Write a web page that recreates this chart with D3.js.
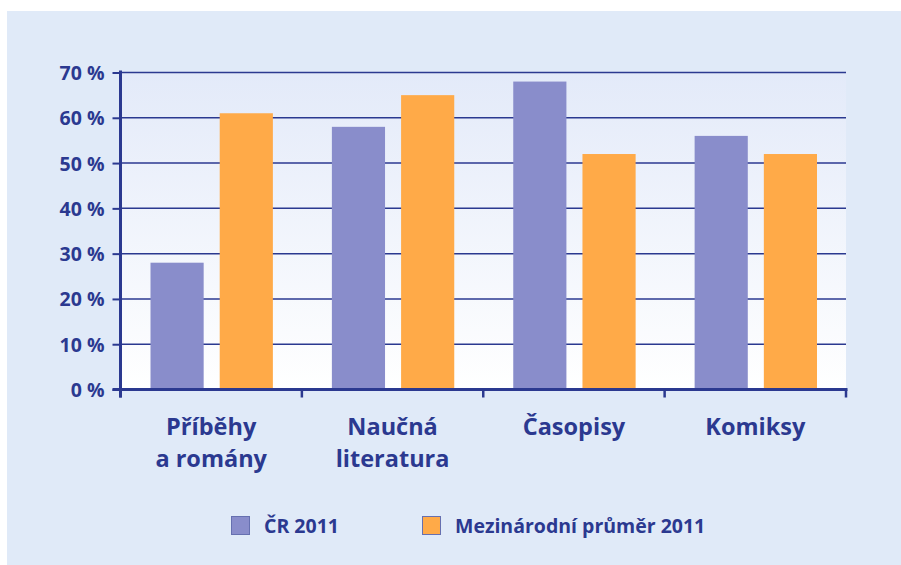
<!DOCTYPE html>
<html>
<head>
<meta charset="utf-8">
<script src="https://d3js.org/d3.v7.min.js"></script>
<style>
body { margin: 0; background: #fff; }
svg { display: block; }
text { font-family: "Open Sans", sans-serif; font-weight: bold; fill: #2b3990; }
</style>
</head>
<body>
<svg id="chart" width="901" height="565"></svg>
<script>
var categories = [["Příběhy", "a romány"], ["Naučná", "literatura"], ["Časopisy"], ["Komiksy"]];
var seriesNames = ["ČR 2011", "Mezinárodní průměr 2011"];
var cr2011 = [28, 58, 68, 56];
var intl2011 = [61, 65, 52, 52];
var yTicks = [0, 10, 20, 30, 40, 50, 60, 70];

var navy = "#2b3990";
var colors = ["#898dcb", "#ffaa48"];

var svg = d3.select("#chart");
var pLeft = 120.5, pRight = 846, pTop = 72.5, pBottom = 389.5;

// panel
svg.append("rect").attr("x", 7).attr("y", 11).attr("width", 894).attr("height", 554).attr("fill", "#e0eaf8");

var defs = svg.append("defs");
var grad = defs.append("linearGradient").attr("id", "plotbg")
  .attr("x1", 0).attr("y1", 0).attr("x2", 0).attr("y2", 1);
grad.append("stop").attr("offset", "0%").attr("stop-color", "#e3eaf9");
grad.append("stop").attr("offset", "100%").attr("stop-color", "#ffffff");

svg.append("rect").attr("x", pLeft).attr("y", pTop).attr("width", pRight - pLeft).attr("height", pBottom - pTop)
  .attr("fill", "url(#plotbg)");

var x = d3.scaleBand().domain(d3.range(categories.length)).range([pLeft, pRight]);
// bars sit inside each band, leaving ~30px on each side
var x1 = d3.scaleBand().domain([0, 1]).range([30, x.bandwidth() - 29]).paddingInner(0.232).paddingOuter(0);
var y = d3.scaleLinear().domain([0, 70]).range([pBottom, pTop]);

// gridlines
svg.selectAll("line.grid").data(yTicks.slice(1)).enter().append("line")
  .attr("class", "grid")
  .attr("x1", pLeft).attr("x2", pRight)
  .attr("y1", function(d){ return y(d); }).attr("y2", function(d){ return y(d); })
  .attr("stroke", navy).attr("stroke-width", 1.5);

// bars
var series = [cr2011, intl2011];
series.forEach(function(vals, s){
  svg.selectAll("rect.s" + s).data(vals).enter().append("rect")
    .attr("class", "s" + s)
    .attr("x", function(d, i){ return x(i) + x1(s); })
    .attr("width", x1.bandwidth())
    .attr("y", function(d){ return y(d); })
    .attr("height", function(d){ return pBottom - y(d); })
    .attr("fill", colors[s]);
});

// y axis
var yAxis = d3.axisLeft(y).tickValues(yTicks).tickSize(8).tickPadding(8)
  .tickFormat(function(d){ return d + " %"; });
var gy = svg.append("g").attr("transform", "translate(" + pLeft + ",0)").call(yAxis);
gy.select(".domain").attr("stroke", navy).attr("stroke-width", 3).attr("d", "M0," + (pTop - 2) + "V" + (pBottom + 8));
gy.selectAll(".tick line").attr("stroke", navy).attr("stroke-width", 2);
gy.selectAll(".tick text").style("font-size", "19.5px").attr("fill", navy).attr("dy", "0.36em");

// x axis
var boundaries = d3.range(categories.length + 1).map(function(i){ return pLeft + i * x.bandwidth(); });
svg.append("line").attr("x1", pLeft - 8).attr("x2", pRight + 1.5).attr("y1", pBottom).attr("y2", pBottom)
  .attr("stroke", navy).attr("stroke-width", 3);
svg.selectAll("line.xtick").data(boundaries).enter().append("line")
  .attr("class", "xtick")
  .attr("x1", function(d){ return d; }).attr("x2", function(d){ return d; })
  .attr("y1", pBottom).attr("y2", pBottom + 8)
  .attr("stroke", navy).attr("stroke-width", 2.5);

// category labels
var labels = svg.selectAll("text.cat").data(categories).enter().append("text")
  .attr("class", "cat")
  .attr("text-anchor", "middle")
  .style("font-size", "23.5px");
labels.selectAll("tspan").data(function(d, i){ return d.map(function(t){ return {t: t, i: i}; }); })
  .enter().append("tspan")
  .attr("x", function(d){ return x(d.i) + x.bandwidth() / 2; })
  .attr("y", function(d, j){ return 435 + j * 32; })
  .text(function(d){ return d.t; });

// legend
var legendX = [231, 422];
var lg = svg.selectAll("g.legend").data(seriesNames).enter().append("g")
  .attr("class", "legend")
  .attr("transform", function(d, i){ return "translate(" + legendX[i] + ",516)"; });
lg.append("rect").attr("x", 0.5).attr("y", 0.5).attr("width", 18).attr("height", 18)
  .attr("fill", function(d, i){ return colors[i]; })
  .attr("stroke", "#6670b0").attr("stroke-width", 1);
lg.append("text").attr("x", 33).attr("y", 17).style("font-size", "19.5px").text(function(d){ return d; });
</script>
</body>
</html>
